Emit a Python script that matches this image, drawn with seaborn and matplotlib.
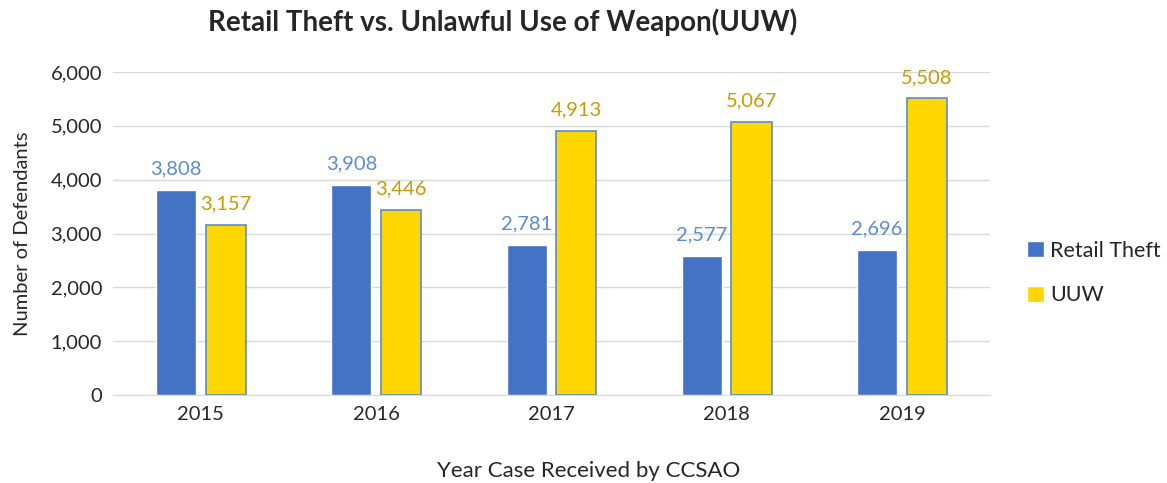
import pandas as pd
import seaborn as sns
import matplotlib.pyplot as plt

years = ['2015', '2016', '2017', '2018', '2019']
retail_theft = [3808, 3908, 2781, 2577, 2696]
uuw = [3157, 3446, 4913, 5067, 5508]

data = pd.DataFrame({
    'year': years * 2,
    'count': retail_theft + uuw,
    'type': ['Retail Theft'] * 5 + ['UUW'] * 5,
})

sns.set_style('white')
plt.rcParams['font.family'] = ['Lato', 'DejaVu Sans']

fig = plt.figure(figsize=(11.67, 4.83), dpi=100)
ax = fig.add_axes([0.097, 0.182, 0.751, 0.669])

palette = {'Retail Theft': '#4472C4', 'UUW': '#FFD700'}
sns.barplot(data=data, x='year', y='count', hue='type', palette=palette,
            width=0.566, gap=0.19, ax=ax, saturation=1, zorder=3)

for bar in ax.containers[1]:
    bar.set_edgecolor('#5B8BD0')
    bar.set_linewidth(1.2)

label_colors = ['#5B8BD0', '#C89B00']
for cont, col in zip(ax.containers, label_colors):
    labels = [f'{int(v.get_height()):,}' for v in cont]
    ax.bar_label(cont, labels=labels, padding=9, color=col, fontsize=14.5)

ax.set_ylim(0, 6000)
ax.set_yticks(range(0, 6001, 1000))
ax.set_yticklabels([f'{v:,}' for v in range(0, 6001, 1000)])
ax.yaxis.grid(True, color='#D9D9D9', linewidth=1, zorder=0)
ax.set_axisbelow(True)
for s in ['top', 'right', 'left']:
    ax.spines[s].set_visible(False)
ax.spines['bottom'].set_color('#D9D9D9')
ax.tick_params(axis='both', labelsize=14.5, length=0, pad=8)

ax.set_xlabel('Year Case Received by CCSAO', fontsize=16)
ax.xaxis.set_label_coords(0.543, -0.205)
ax.set_ylabel('Number of Defendants', fontsize=14.5, labelpad=14)
fig.text(0.431, 0.955, 'Retail Theft vs. Unlawful Use of Weapon(UUW)',
         fontsize=20, fontweight='bold', ha='center', va='center')

ax.legend(loc='center left', bbox_to_anchor=(1.02, 0.378), frameon=False,
          fontsize=15.5, handlelength=0.8, handleheight=0.8, handletextpad=0.3,
          labelspacing=1.15)

fig.savefig('out.png', dpi=100)
